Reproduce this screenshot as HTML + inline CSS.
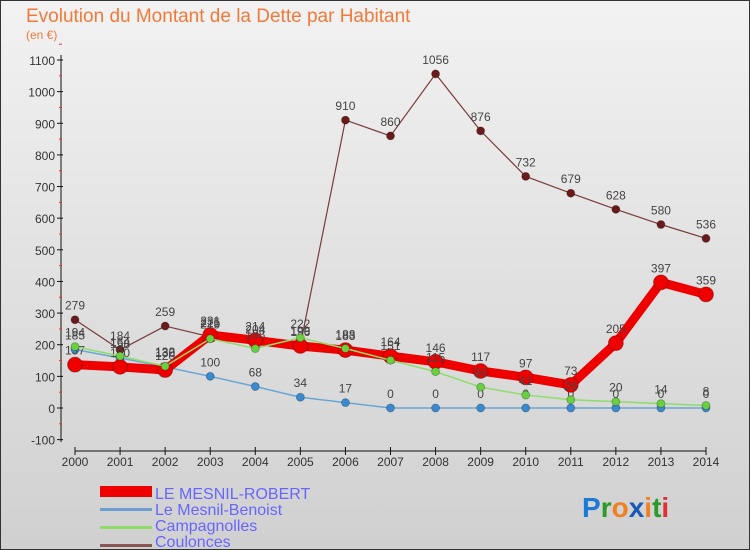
<!DOCTYPE html>
<html><head><meta charset="utf-8"><style>
body{margin:0;width:750px;height:550px;overflow:hidden;font-family:"Liberation Sans",sans-serif}
svg{display:block}
</style></head><body>
<svg id="chart" width="750" height="550" xmlns="http://www.w3.org/2000/svg">
<defs><linearGradient id="bg" x1="0" y1="0" x2="0" y2="1"><stop offset="0" stop-color="#f2f2f2"/><stop offset="1" stop-color="#d0d0d0"/></linearGradient></defs>
<rect x="0.5" y="0.5" width="749" height="549" fill="url(#bg)" stroke="#333"/>
<text x="26" y="22" font-size="19" fill="#f07a3a">Evolution du Montant de la Dette par Habitant</text>
<text x="26" y="39" font-size="12" fill="#f07a3a">(en €)</text>
<g id="axes"></g><g id="series"></g>
<g font-size="16" fill="#6666ff">
<rect x="100" y="486" width="52" height="11" fill="#ee0000"/>
<text x="155" y="499">LE MESNIL-ROBERT</text>
<rect x="100" y="508" width="52" height="3" fill="#6a9fcf"/>
<text x="155" y="515">Le Mesnil-Benoist</text>
<rect x="100" y="526" width="52" height="3" fill="#8fdc6a"/>
<text x="155" y="531">Campagnolles</text>
<rect x="100" y="544" width="52" height="3" fill="#8a5555"/>
<text x="155" y="547">Coulonces</text>
</g>
<g font-size="28" font-weight="bold">
<text x="582" y="517"><tspan fill="#1a7ad6">P</tspan><tspan fill="#2a9a2a">r</tspan><tspan fill="#f08020">o</tspan><tspan fill="#1a5ab6">x</tspan><tspan fill="#f08020">i</tspan><tspan fill="#2a9a2a">t</tspan><tspan fill="#e03030">i</tspan></text>
</g>
</svg>
<script>
const years=[2000,2001,2002,2003,2004,2005,2006,2007,2008,2009,2010,2011,2012,2013,2014];
const mesnilRobert=[137,130,120,231,214,196,183,164,146,117,97,73,205,397,359];
const mesnilBenoist=[185,158,130,100,68,34,17,0,0,0,0,0,0,0,0];
const campagnolles=[194,164,132,219,188,222,188,151,115,66,41,26,20,14,8];
const coulonces=[279,184,259,225,204,199,910,860,1056,876,732,679,628,580,536];
const yTicks=[-100,0,100,200,300,400,500,600,700,800,900,1000,1100];
const NS="http://www.w3.org/2000/svg";
function X(i){return 75+i*(706-75)/(years.length-1);}
function Y(v){return 408-v*348/1100;}
function mk(t,a,p){const e=document.createElementNS(NS,t);for(const k in a)e.setAttribute(k,a[k]);p.appendChild(e);return e;}
const ax=document.getElementById('axes');
const yl=mk('line',{x1:61,y1:55,x2:61,y2:442,stroke:'#111'},ax);


yTicks.forEach(v=>{
 mk('line',{x1:57,y1:Y(v),x2:63,y2:Y(v),stroke:'#111'},ax);
 mk('line',{x1:59,y1:Y(v+50),x2:62,y2:Y(v+50),stroke:'#e33'},ax);
 const t=mk('text',{x:55,y:Y(v)+5,'text-anchor':'end','font-size':12,fill:'#333'},ax);t.textContent=v;
 
 
});
const xl=mk('line',{x1:75,y1:451,x2:706,y2:451,stroke:'#111'},ax);


years.forEach((y,i)=>{
 mk('line',{x1:X(i),y1:447,x2:X(i),y2:455,stroke:'#111'},ax);
 const t=mk('text',{x:X(i),y:466,'text-anchor':'middle','font-size':12,fill:'#333'},ax);t.textContent=y;
 
 
});
const sg=document.getElementById('series');
function draw(data,name,color,w,r,dot){
 const g=mk('g',{},sg);
 
 
 const pl=mk('polyline',{points:data.map((v,i)=>X(i)+','+Y(v)).join(' '),fill:'none',stroke:color,'stroke-width':w,'stroke-linejoin':'round'},g);
 
 
 data.forEach((v,i)=>{
  const c=mk('circle',{cx:X(i),cy:Y(v),r:r,fill:dot,stroke:'rgba(0,0,0,0.25)'},g);
  
  
  const t=mk('text',{x:X(i),y:Y(v)-10,'text-anchor':'middle','font-size':12,fill:'#444'},g);t.textContent=v;
  
  
 });
}
draw(coulonces,'coulonces','#7a3a3a',1.2,4,'#6a1a1a');
draw(mesnilBenoist,'mesnil-benoist','#6aa6d6',1.5,4,'#3a8ad0');
draw(mesnilRobert,'mesnil-robert','#ee0000',9,7.5,'#ee0000');
draw(campagnolles,'campagnolles','#8fdc6a',1.5,4,'#6ad040');
</script>
</body></html>
